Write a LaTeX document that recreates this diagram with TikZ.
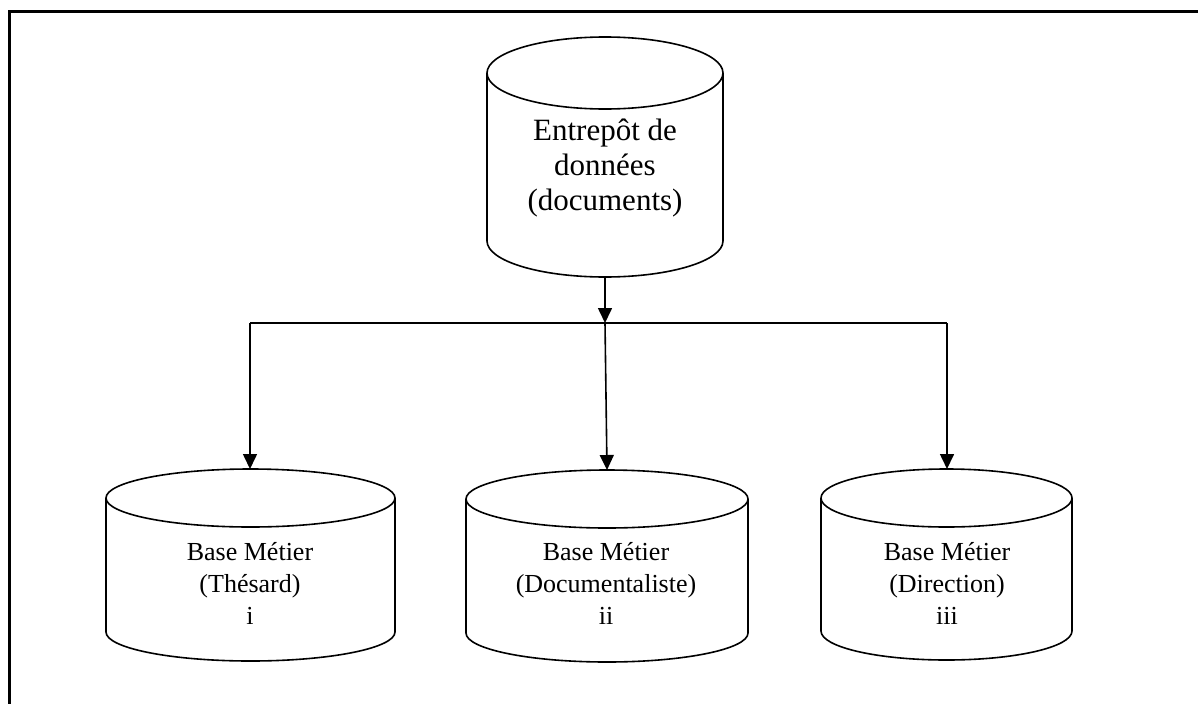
\documentclass[tikz,border=0pt]{standalone}
\usepackage{fontspec}
\setmainfont{Liberation Serif}
\usetikzlibrary{arrows.meta}
\newcommand\dbcyl[5]{% cx, ellipse centre y, side bottom y, rx, ry
  \draw[cyl] (#1-#4,#2) -- (#1-#4,#3) arc[start angle=180,end angle=360,x radius=#4pt,y radius=#5pt] -- (#1+#4,#2);
  \draw[cyl] (#1,#2) ellipse[x radius=#4pt,y radius=#5pt];
}
\begin{document}
\begin{tikzpicture}[x=1pt,y=-1pt,
  cyl/.style={line width=1.6pt},
  conn/.style={line width=1.6pt},
  arr/.style={conn,-{Triangle[width=14pt,length=15pt]}},
  bigtxt/.style={align=center,font=\fontsize{31}{35}\selectfont,inner sep=0pt},
  smalltxt/.style={align=center,font=\fontsize{26}{32}\selectfont,inner sep=0pt}]
\useasboundingbox (0,0) rectangle (1198,704);
\draw[line width=3pt] (1198,11) -- (9,11) -- (9,704);

% cylinders
\dbcyl{605}{73}{241}{118}{36}
\dbcyl{250.5}{498}{632}{144.5}{29}
\dbcyl{607}{499}{633}{141}{29}
\dbcyl{946.5}{498}{631}{125.5}{29}

% texts
\node[bigtxt] (entrepot) at (605,168) {Entrepôt de\\données\\(documents)};
\node[smalltxt] (these) at (250,583) {Base Métier\\(Thésard)\\i};
\node[smalltxt] (docu) at (606,583) {Base Métier\\(Documentaliste)\\ii};
\node[smalltxt] (dir) at (947,583) {Base Métier\\(Direction)\\iii};

% connector points
\coordinate (entrepot-bot) at (605,277);
\coordinate (bus) at (605,323);
\coordinate (busL) at (250,323);
\coordinate (busR) at (947,323);
\coordinate (these-top) at (250,469);
\coordinate (docu-top) at (607,470);
\coordinate (dir-top) at (947,469);

\draw[arr] (entrepot-bot) -- (bus);
\draw[conn] (busL) -- (busR);
\draw[arr] (busL) -- (these-top);
\draw[arr] (bus) -- (docu-top);
\draw[arr] (busR) -- (dir-top);
\end{tikzpicture}
\end{document}
